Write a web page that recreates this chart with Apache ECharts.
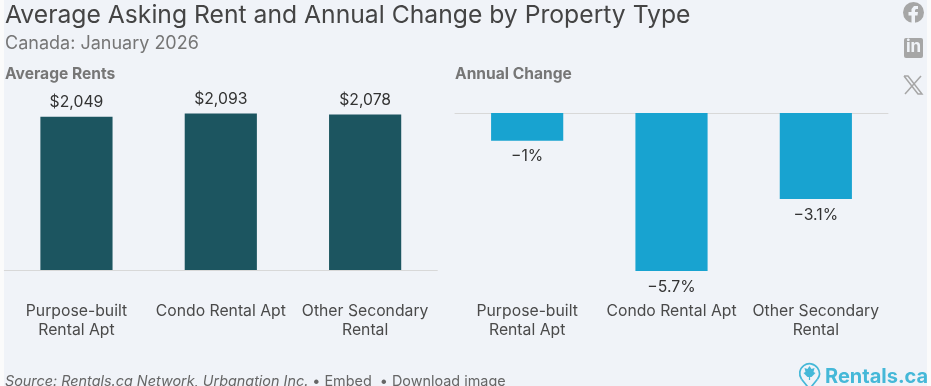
<!DOCTYPE html>
<html><head><meta charset="utf-8">
<style>
html,body{margin:0;padding:0;background:#fbfbfb;overflow:hidden}
#panel{position:absolute;left:4px;top:0;width:923px;height:386px;background:#f0f3f8}
#chart{position:absolute;left:0;top:0;width:931px;height:386px}
</style>
<script src="https://cdn.jsdelivr.net/npm/echarts@6/dist/echarts.min.js"></script>
</head><body><div id="panel"></div><div id="chart"></div>
<script>
const categories = ['Purpose-built\nRental Apt', 'Condo Rental Apt', 'Other Secondary\nRental'];
const rents = [2049, 2093, 2078];
const changes = [-1, -5.7, -3.1];
const FONT = 'Inter';
const fmtRent = v => '$' + v.toLocaleString('en-US');
const fmtChange = v => '\u2212' + Math.abs(v) + '%';
const axisLabel = {color:'#4a4a4a', fontFamily:FONT, fontSize:15.75, lineHeight:19, margin:32, interval:0, verticalAlign:'top'};
const txt = (x,y,text,size,color,weight,extra) => ({type:'text', left:x, top:y, silent:true,
  style:Object.assign({text, fontFamily:FONT, fontSize:size, fill:color, fontWeight:weight||400}, extra||{})});
const chart = echarts.init(document.getElementById('chart'), null, {renderer:'canvas'});
chart.setOption({
  backgroundColor:'transparent',
  animation:false,
  grid:[
    {left:4.3, width:433, top:113.4, height:156.6},
    {left:455, width:433, top:113, height:158}
  ],
  xAxis:[
    {gridIndex:0, type:'category', data:categories, axisTick:{show:false}, axisLine:{lineStyle:{color:'#d8d8d8'}}, axisLabel},
    {gridIndex:1, type:'category', data:categories, position:'bottom', axisTick:{show:false}, axisLine:{show:false,onZero:false}, axisLabel:Object.assign({},axisLabel,{margin:31})},
    {gridIndex:1, type:'category', data:categories, position:'top', axisTick:{show:false}, axisLabel:{show:false}, axisLine:{onZero:false,lineStyle:{color:'#d8d8d8'}}}
  ],
  yAxis:[
    {gridIndex:0, type:'value', min:0, max:2093, show:false},
    {gridIndex:1, type:'value', min:-5.7, max:0, show:false}
  ],
  series:[
    {type:'bar', xAxisIndex:0, yAxisIndex:0, data:rents, barWidth:'50%', itemStyle:{color:'#1c5560'},
     label:{show:true, position:'top', distance:6, color:'#333', fontFamily:FONT, fontSize:15.75, formatter:p=>fmtRent(p.value)}},
    {type:'bar', xAxisIndex:1, yAxisIndex:1, data:changes, barWidth:'50%', itemStyle:{color:'#18a3d0'},
     label:{show:true, position:'bottom', distance:8, color:'#333', fontFamily:FONT, fontSize:15.75, formatter:p=>fmtChange(p.value)}}
  ],
  graphic:[
    txt(5,3,'Average Asking Rent and Annual Change by Property Type',24.7,'#444444'),
    txt(5,35,'Canada: January 2026',18,'#767676'),
    txt(5,66,'Average Rents',15.6,'#767676',700),
    txt(455,66,'Annual Change',15.6,'#767676',700),
    {type:'text', left:5, top:375, silent:true, style:{
      text:'{i|Source: Rentals.ca Network, Urbanation Inc.} \u2022 Embed  \u2022 Download image',
      rich:{i:{fontStyle:'italic',fontFamily:FONT,fontSize:14.4,fill:'#666'}},
      fontFamily:FONT,fontSize:14.4,fill:'#666'}},
    txt(825,367,'Rentals.ca',20,'#45b8d8',700),
    {type:'circle', shape:{cx:913.5,cy:12.5,r:10.5}, style:{fill:'#a6a6a6'}, silent:true},
    {type:'polygon', silent:true, shape:{points:[[911.5,23],[911.5,15.5],[908.5,15.5],[908.5,12],[911.5,12],[911.5,9],[914,6],[918,6],[918,9],[916,9],[915,10],[915,12],[918,12],[917.5,15.5],[915,15.5],[915,23]]}, style:{fill:'#f0f3f8'}},
    {type:'rect', shape:{x:904,y:38,width:19,height:20,r:2}, style:{fill:'#a6a6a6'}, silent:true},
    txt(906,38,'in',17,'#f0f3f8',700),
    {type:'polyline', silent:true, shape:{points:[[904,76],[908,76],[922,94],[918,94],[904,76]]}, style:{fill:'none',stroke:'#a6a6a6',lineWidth:1.5}},
    {type:'line', silent:true, shape:{x1:921,y1:76,x2:905,y2:94}, style:{stroke:'#a6a6a6',lineWidth:1.5}},
    {type:'arc', silent:true, shape:{cx:809.5,cy:373.5,r:9.8,startAngle:Math.PI*0.8,endAngle:Math.PI*0.2,clockwise:true}, style:{fill:'none',stroke:'#45b8d8',lineWidth:1.7}},
    {type:'polyline', silent:true, shape:{points:[[801.6,379.3],[809.5,389],[817.4,379.3]]}, style:{fill:'none',stroke:'#45b8d8',lineWidth:1.7}},
    {type:'polygon', silent:true, shape:{points:[[809.5,366],[811.5,369],[814.5,368],[813.5,372],[815.5,373],[811.5,377],[810.1,377],[810.1,380],[808.9,380],[808.9,377],[807.5,377],[803.5,373],[805.5,372],[804.5,368],[807.5,369]]}, style:{fill:'#45b8d8'}}
  ]
});
</script></body></html>
